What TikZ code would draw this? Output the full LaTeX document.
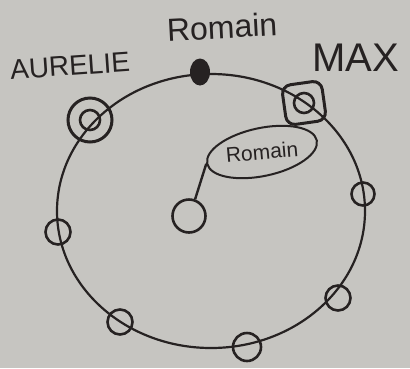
\documentclass[tikz,border=0pt]{standalone}
\usepackage{fontspec}
\setmainfont{Liberation Sans}
\usetikzlibrary{shapes.geometric,positioning}
\definecolor{paper}{HTML}{C6C5C1}
\definecolor{ink}{HTML}{262222}

\begin{document}
\begin{tikzpicture}[x=1pt,y=-1pt,
  seat/.style={circle,draw=ink,line width=2.6pt,minimum size=25pt,inner sep=0pt},
  guestname/.style={text=ink,inner sep=0pt}]
\fill[paper] (0,0) rectangle (410,368);
% table ring
\draw[ink,line width=2.2pt] (211,211) ellipse [x radius=154, y radius=137];
% seats round the table
\node[ellipse,fill=ink,minimum width=20pt,minimum height=27pt,inner sep=0pt] (host) at (200,72) {};
\node[seat,minimum size=44pt,line width=3pt] (aurelie) at (90,120) {};
\node[seat,minimum size=20pt] (aurelie in) at (aurelie) {};
\node[draw=ink,line width=3pt,rounded corners=9pt,minimum size=40pt,rotate=8] (max) at (304,103) {};
\node[seat,minimum size=20pt] (max in) at (max) {};
\node[seat,minimum size=23pt] (s1) at (363,194) {};
\node[seat] (s2) at (338,298) {};
\node[seat,minimum size=28pt] (s3) at (247,347) {};
\node[seat] (s4) at (120,322) {};
\node[seat] (s5) at (58,232) {};
% the one in the middle
\node[seat,minimum size=33pt] (me) at (189,216) {};
\node[ellipse,draw=ink,line width=2pt,minimum width=112pt,minimum height=48pt,rotate=12] (bubble) at (262,152) {};
\node[guestname,font=\fontsize{21}{21}\selectfont,rotate=5] (bubble txt) at (bubble.center) {Romain};
\draw[ink,line width=2.4pt] (me.70) -- (bubble.west);
% names
\node[guestname,font=\fontsize{28}{28}\selectfont,rotate=4] (lbl aurelie) at (70,66) {AURELIE};
\node[guestname,font=\fontsize{32}{32}\selectfont,rotate=3] (lbl host) at (222,27) {Romain};
\node[guestname,font=\fontsize{40}{40}\selectfont] (lbl max) at (356,58) {MAX};
\end{tikzpicture}
\end{document}
